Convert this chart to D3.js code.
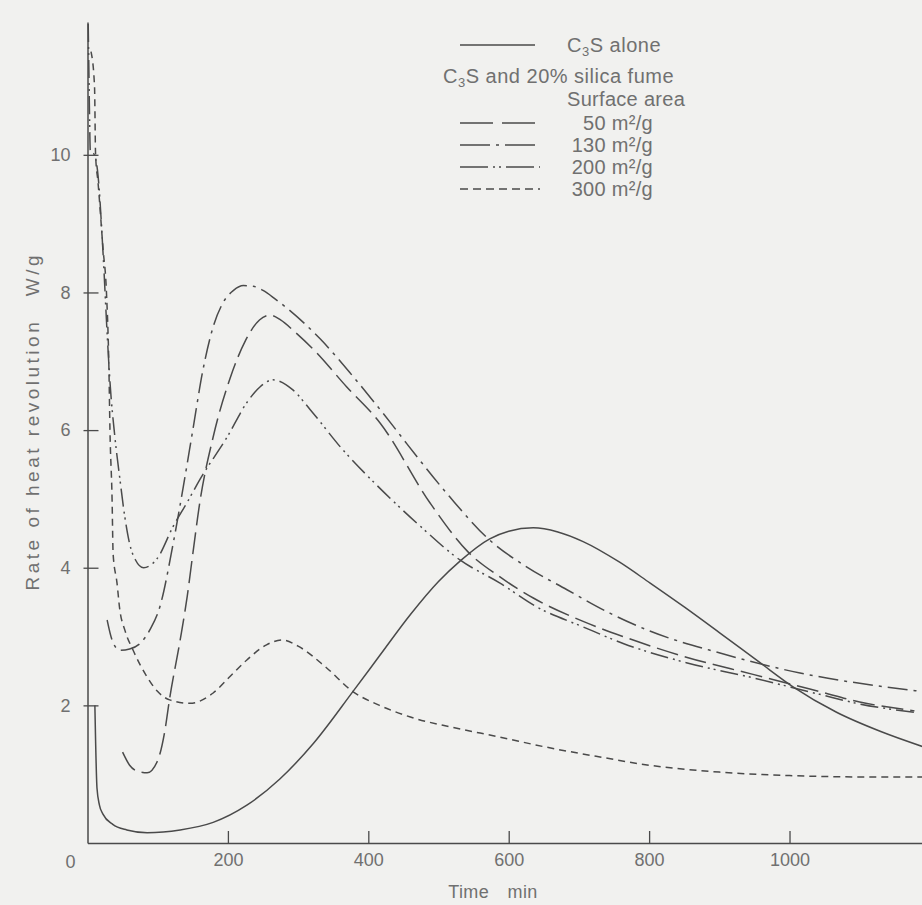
<!DOCTYPE html>
<html><head><meta charset="utf-8">
<script src="https://cdn.jsdelivr.net/npm/d3@7"></script>
<style>
html,body{margin:0;padding:0;background:#f1f1ef;}
svg{display:block;}
text{font-family:"Liberation Sans",Arial,sans-serif;fill:#707070;}
</style></head><body>
<svg id="chart" width="922" height="905"></svg>
<script>
// ---------- data ----------
const xTickValues = [200, 400, 600, 800, 1000];
const yTickValues = [2, 4, 6, 8, 10];
const originLabel = "0";
const xAxisTitle = "Time\u2003min";
const yAxisTitle = "Rate of heat revolution\u2003W/g";
const legendHeader = "and 20% silica fume";
const legendSub = "Surface area";
const surfaceLabels = ["50 m\u00B2/g", "130 m\u00B2/g", "200 m\u00B2/g", "300 m\u00B2/g"];

// [time (min), rate (W/g)]
const c3sAlone = [[10.5,2.0],[11.5,1.5],[13.5,0.8],[17,0.55],[22,0.42],[36,0.27],[56,0.19],[85,0.15],[132,0.19],[179,0.3],[227,0.55],[274,0.93],[322,1.45],[378,2.2],[416,2.72],[460,3.32],[500,3.8],[531,4.1],[573,4.42],[600,4.53],[635,4.58],[670,4.52],[706,4.38],[758,4.08],[801,3.78],[850,3.43],[901,3.05],[958,2.62],[1005,2.27],[1067,1.9],[1130,1.62],[1190,1.4]];
const sf50 = [[50,1.32],[60,1.13],[72,1.04],[85,1.02],[100,1.2],[110,1.62],[117,2.1],[132,2.95],[142,3.58],[150,4.2],[160,4.95],[179,5.9],[203,6.75],[225,7.3],[245,7.6],[260,7.67],[275,7.6],[295,7.43],[322,7.17],[369,6.63],[417,6.1],[488,4.94],[542,4.23],[587,3.87],[635,3.56],[706,3.22],[763,3.0],[853,2.7],[948,2.45],[1043,2.2],[1100,2.05],[1178,1.92]];
const sf130 = [[28,3.24],[35,2.95],[46,2.8],[60,2.82],[75,2.9],[89,3.1],[103,3.43],[122,4.35],[136,5.15],[150,6.0],[164,6.85],[179,7.5],[193,7.85],[208,8.03],[222,8.1],[236,8.09],[250,8.03],[268,7.9],[288,7.74],[331,7.33],[379,6.77],[436,6.05],[455,5.8],[516,5.03],[573,4.4],[626,4.01],[683,3.68],[744,3.34],[801,3.08],[901,2.76],[1015,2.47],[1100,2.32],[1190,2.2]];
const sf200 = [[1,11.9],[2,11.2],[3,10.5],[4,10.05],[10,10.0],[15,9.7],[22,8.6],[28,7.4],[32,6.7],[39,5.9],[46,5.3],[53,4.75],[60,4.35],[68,4.12],[80,4.0],[99,4.13],[122,4.6],[142,4.95],[160,5.28],[199,5.9],[227,6.4],[246,6.63],[264,6.73],[293,6.58],[317,6.3],[364,5.71],[412,5.2],[469,4.65],[531,4.11],[587,3.78],[640,3.43],[706,3.14],[763,2.9],[853,2.62],[948,2.4],[1043,2.16],[1100,2.02],[1178,1.9]];
const sf300 = [[5,11.5],[10,11.0],[11.5,10.0],[15,9.6],[22,8.65],[27,8.0],[30.5,6.9],[32,6.0],[35,5.0],[36.5,4.2],[42,3.78],[46,3.39],[53,3.1],[65,2.8],[85,2.41],[100,2.2],[117,2.08],[146,2.03],[179,2.18],[203,2.42],[227,2.66],[255,2.88],[278,2.95],[300,2.86],[340,2.55],[378,2.2],[416,2.0],[460,1.83],[520,1.68],[587,1.54],[650,1.4],[730,1.25],[800,1.13],[900,1.03],[1000,0.98],[1100,0.96],[1190,0.96]];

// ---------- drawing ----------
const svg = d3.select("#chart");
const ink = "#4a4a4a";
const x = d3.scaleLinear().domain([0, 1190]).range([87.5, 922.9]);
const y = d3.scaleLinear().domain([0, 11.93]).range([843, 22]);

const line = d3.line().x(d => x(d[0])).y(d => y(d[1])).curve(d3.curveMonotoneX);

const styles = [
  {data: c3sAlone, dash: null},
  {data: sf50, dash: "22,7"},
  {data: sf130, dash: "20,6,3,6"},
  {data: sf200, dash: "18,5,2,4,2,5"},
  {data: sf300, dash: "7,5"}
];
styles.forEach(s => {
  svg.append("path").datum(s.data).attr("d", line)
    .attr("fill", "none").attr("stroke", ink).attr("stroke-width", 1.5)
    .attr("stroke-dasharray", s.dash);
});

// axes
const xAxis = svg.append("g").attr("transform", `translate(0,${y(0)})`)
  .call(d3.axisBottom(x).tickValues(xTickValues).tickSize(-12).tickSizeOuter(0).tickPadding(10).tickFormat(d3.format("d")));
const yAxis = svg.append("g").attr("transform", `translate(${x(0)},0)`)
  .call(d3.axisLeft(y).tickValues(yTickValues).tickSize(-11).tickSizeOuter(0).tickPadding(17));
[xAxis, yAxis].forEach(g => {
  g.select(".domain").attr("stroke", ink).attr("stroke-width", 1.5);
  g.selectAll(".tick line").attr("stroke", ink).attr("stroke-width", 1.3);
  g.selectAll(".tick text").attr("font-size", 18).attr("fill", "#707070")
    .attr("font-family", "Liberation Sans, Arial, sans-serif");
});
yAxis.selectAll(".tick line").attr("x1", -4);

svg.append("text").attr("x", x(0) - 17).attr("y", y(0) + 25)
  .attr("text-anchor", "middle").attr("font-size", 18).text(originLabel);

svg.append("text").attr("x", 493).attr("y", 898).attr("text-anchor", "middle")
  .attr("font-size", 18).attr("letter-spacing", 0.4).text(xAxisTitle);
svg.append("text").attr("transform", "translate(39,423) rotate(-90)")
  .attr("text-anchor", "middle").attr("font-size", 19)
  .attr("textLength", 335).attr("lengthAdjust", "spacing").text(yAxisTitle);

// legend
const lg = svg.append("g").attr("font-size", 20);
function c3s(t, xx, yy) {
  const tx = t.append("text").attr("x", xx).attr("y", yy).attr("font-size", 20).attr("letter-spacing", 0.5);
  tx.append("tspan").text("C");
  tx.append("tspan").attr("font-size", 13).attr("dy", 4).text("3");
  tx.append("tspan").attr("dy", -4).text("S");
  return tx;
}
lg.append("line").attr("x1", 460).attr("x2", 535).attr("y1", 45).attr("y2", 45)
  .attr("stroke", ink).attr("stroke-width", 1.5);
const t1 = c3s(lg, 567, 52); t1.append("tspan").text(" alone");
const t2 = c3s(lg, 443, 83); t2.append("tspan").text(" " + legendHeader);
lg.append("text").attr("x", 567).attr("y", 106).attr("font-size", 20).attr("letter-spacing", 0.3).text(legendSub);
const legendDash = ["33,9", "30,6,3,6", "28,5,2,4,2,5", "8,5"];
const rowY = [123, 145, 167, 189];
surfaceLabels.forEach((lab, i) => {
  lg.append("line").attr("x1", 460).attr("x2", 540).attr("y1", rowY[i]).attr("y2", rowY[i])
    .attr("stroke", ink).attr("stroke-width", 1.5).attr("stroke-dasharray", legendDash[i]);
  lg.append("text").attr("x", 653).attr("y", rowY[i] + 7).attr("text-anchor", "end")
    .attr("font-size", 20).attr("letter-spacing", 0.3).text(lab);
});
</script>
</body></html>
